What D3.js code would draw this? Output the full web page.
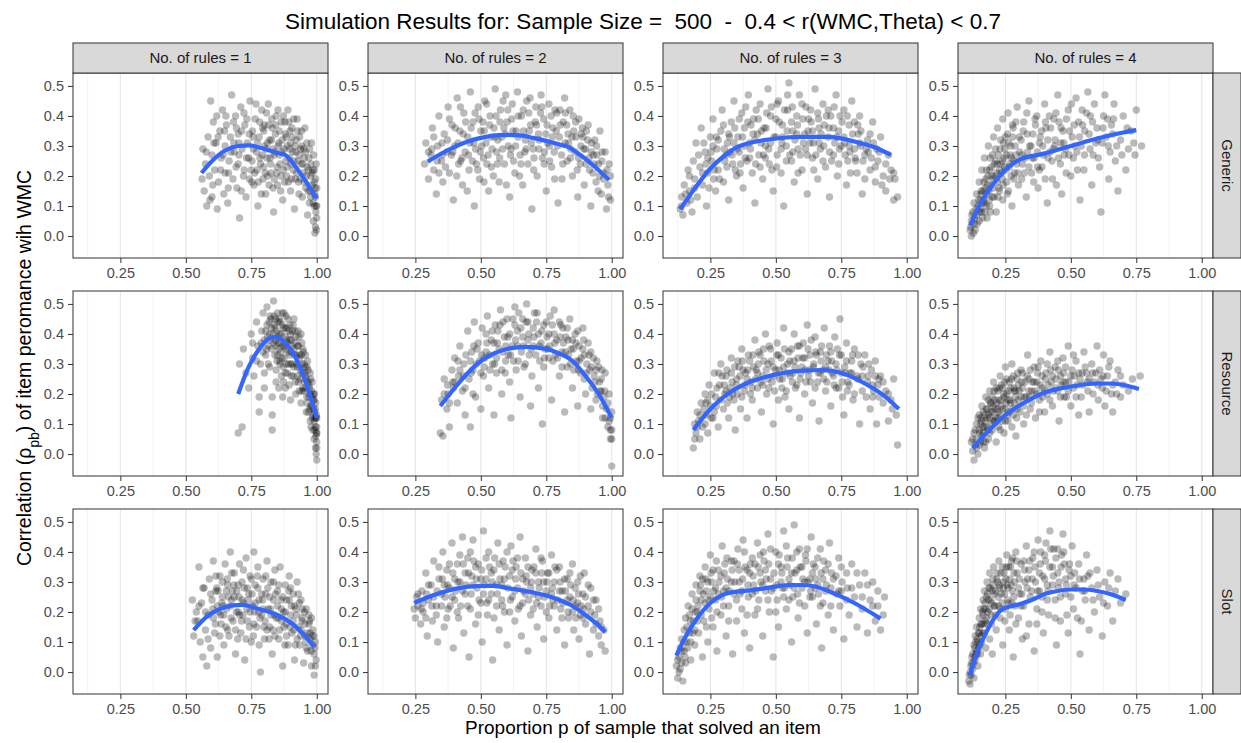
<!DOCTYPE html>
<meta charset="utf-8">
<script src="https://d3js.org/d3.v7.min.js"></script>
<style>
  body { margin: 0; background: #fff; }
  text { font-family: "Liberation Sans", Arial, sans-serif; }
</style>
<div id="chart"></div>
<script>

// facet labels and ticks
const ruleLabels = ["No. of rules = 1", "No. of rules = 2", "No. of rules = 3", "No. of rules = 4"]
const modelLabels = ["Generic", "Resource", "Slot"]
const xTicks = [0.25, 0.50, 0.75, 1.00]
const xMinor = [0.125, 0.375, 0.625, 0.875]
const yTicks = [0.0, 0.1, 0.2, 0.3, 0.4, 0.5]

// point clouds (p, r_pb), one array per panel
const genericR1 = [[.565,.29],[.57,.15],[.575,.24],[.58,.10],[.585,.33],[.59,.20],[.595,.45],[.60,.27],[.60,.13],[.605,.38],[.61,.22],[.615,.31],[.62,.09],[.625,.18],[.63,.35],[.635,.26],[.64,.42],[.645,.14],[.65,.30],[.65,.21],
[.655,.37],[.66,.11],[.665,.25],[.67,.33],[.675,.47],[.68,.19],[.685,.28],[.69,.40],[.695,.16],[.70,.34],[.70,.24],[.705,.06],[.71,.43],[.715,.29],[.72,.20],[.725,.37],[.73,.13],[.735,.31],[.74,.26],[.745,.45],[.75,.22],[.755,.35],[.76,.17],[.765,.39],[.77,.28],[.775,.10],[.78,.33],[.785,.24],[.79,.42],[.795,.19],[.80,.30],[.80,.37],
[.805,.14],[.81,.26],[.815,.44],[.82,.32],[.825,.21],[.83,.36],[.835,.08],[.84,.28],[.845,.40],[.85,.17],[.855,.31],[.86,.24],[.865,.38],[.87,.12],[.875,.29],[.88,.34],[.885,.20],[.89,.42],[.895,.26],[.90,.15],[.90,.31],[.905,.36],[.91,.22],[.915,.09],[.92,.28],[.925,.39],[.93,.18],[.935,.33],[.94,.24],[.945,.13],[.95,.29],[.955,.36],[.96,.20],[.965,.07],[.97,.26],[.975,.15],[.98,.31],[.985,.22],[.99,.10],[.99,.18],[.995,.03],[.995,.13],[1.0,.06],[.998,.24],[.993,.01],
[.562,.19],[.578,.28],[.592,.12],[.607,.31],[.618,.40],[.633,.22],[.648,.35],[.662,.16],[.672,.28],[.682,.38],[.692,.23],[.703,.31],[.712,.15],[.722,.41],[.732,.26],[.742,.34],[.752,.18],[.758,.29],[.768,.44],[.772,.22],[.782,.38],[.788,.14],[.792,.27],[.798,.35],[.803,.21],[.808,.41],[.812,.31],[.818,.17],[.822,.26],[.828,.39],[.832,.29],[.838,.19],[.842,.34],[.848,.23],[.852,.42],[.858,.27],[.862,.15],[.868,.32],[.872,.22],[.878,.38],[.882,.25],[.888,.30],[.892,.18],[.898,.35],[.902,.24],[.908,.28],[.912,.39],[.918,.19],[.922,.32],[.928,.25],[.932,.14],[.938,.29],[.942,.35],[.948,.21],[.952,.26],[.958,.16],[.962,.31],[.968,.22],[.972,.11],[.978,.24],[.982,.17],[.988,.27],[.992,.14],[.996,.19],[.997,.08],[1.0,.16],[1.0,.10],[.999,.02],[.987,.05],[.977,.20],
[.753,.25],[.757,.33],[.763,.21],[.773,.31],[.777,.18],[.783,.26],[.793,.36],[.797,.23],[.807,.29],[.813,.20],[.817,.37],[.823,.24],[.827,.32],[.833,.16],[.837,.27],[.843,.37],[.847,.21],[.853,.30],[.857,.35],[.863,.20],[.867,.28],[.873,.40],[.877,.18],[.883,.33],[.887,.23],[.893,.38],[.897,.29],[.903,.19],[.907,.33],[.913,.25],[.917,.30],[.923,.21],[.927,.35],[.933,.27],[.937,.19],[.943,.30],[.947,.24],[.953,.18],[.957,.28],[.963,.23],[.967,.15],[.973,.29],[.977,.13],[.983,.21],[.986,.11],[.991,.22],[.994,.16],[.997,.10],[.703,.27],[.713,.35],[.723,.22],[.733,.39],[.743,.19],[.683,.31],[.663,.21],[.643,.27],[.623,.33],[.603,.17],[.653,.40],[.693,.36]]

const genericR2 = [[.285,.24],[.29,.31],[.30,.19],[.31,.27],[.315,.36],[.32,.22],[.33,.14],[.335,.30],[.34,.40],[.35,.25],[.355,.18],[.36,.34],[.37,.28],[.375,.43],[.38,.21],[.39,.37],[.395,.12],[.40,.30],[.41,.46],[.415,.24],[.42,.35],[.43,.17],[.435,.41],[.44,.28],[.45,.33],[.455,.22],[.46,.48],[.47,.38],[.475,.10],[.48,.29],[.49,.43],[.495,.19],[.50,.35],[.51,.26],[.515,.45],[.52,.31],[.53,.15],[.535,.40],[.54,.23],[.55,.36],[.555,.49],[.56,.28],[.57,.18],[.575,.42],[.58,.33],[.59,.24],[.595,.47],[.60,.38],[.61,.13],[.615,.29],[.62,.44],[.63,.21],[.635,.35],[.64,.48],[.65,.27],[.655,.40],[.66,.17],[.67,.32],[.675,.45],[.68,.24],[.69,.37],[.695,.09],[.70,.29],[.71,.43],[.715,.20],[.72,.34],[.73,.47],[.735,.26],[.74,.39],[.75,.15],[.755,.31],[.76,.44],[.77,.23],[.775,.36],[.78,.28],[.79,.41],[.795,.11],[.80,.33],[.81,.19],[.815,.38],[.82,.46],[.83,.25],[.835,.31],[.84,.42],[.85,.20],[.855,.35],[.86,.28],[.87,.13],[.875,.39],[.88,.24],[.89,.33],[.895,.17],[.90,.29],[.91,.37],[.915,.22],[.92,.10],[.93,.27],[.935,.32],[.94,.18],[.95,.24],[.955,.35],[.96,.14],[.97,.21],[.975,.28],[.98,.09],[.985,.17],[.99,.24],[.995,.12],
[.30,.28],[.32,.33],[.34,.21],[.352,.31],[.365,.23],[.38,.39],[.388,.27],[.402,.36],[.408,.20],[.422,.43],[.428,.26],[.442,.38],[.448,.15],[.458,.31],[.468,.25],[.478,.41],[.488,.22],[.498,.28],[.508,.38],[.512,.18],[.522,.44],[.528,.27],[.538,.33],[.548,.20],[.558,.40],[.565,.32],[.572,.26],[.585,.45],[.588,.36],[.598,.17],[.605,.30],[.618,.39],[.625,.25],[.642,.33],[.648,.20],[.662,.42],[.668,.28],[.685,.35],[.688,.46],[.702,.22],[.708,.38],[.722,.29],[.728,.41],[.742,.24],[.748,.34],[.762,.30],[.768,.40],[.782,.19],[.788,.35],[.802,.42],[.808,.27],[.822,.31],[.828,.37],[.842,.26],[.848,.33],[.862,.38],[.868,.22],[.882,.30],[.888,.36],[.902,.24],[.908,.32],[.922,.28],[.928,.21],[.942,.30],[.948,.15],[.962,.25],[.968,.19],[.982,.22],[.988,.13],[.995,.20],
[.453,.27],[.463,.36],[.473,.31],[.483,.24],[.493,.39],[.503,.30],[.513,.35],[.523,.24],[.533,.37],[.543,.29],[.553,.33],[.563,.24],[.573,.38],[.583,.29],[.593,.34],[.603,.42],[.613,.27],[.623,.35],[.633,.30],[.643,.40],[.653,.24],[.663,.35],[.673,.29],[.683,.41],[.693,.31],[.703,.26],[.713,.37],[.723,.32],[.733,.43],[.743,.28],[.753,.37],[.763,.25],[.773,.33],[.783,.42],[.793,.30],[.803,.37],[.813,.24],[.823,.41],[.833,.34],[.843,.29],[.853,.40],[.863,.33],[.873,.26],[.883,.34],[.893,.29],[.903,.35],[.913,.26],[.923,.31],[.933,.24],[.943,.27],[.953,.20],[.963,.28],[.413,.31],[.423,.25],[.433,.34],[.393,.28],[.373,.32],[.353,.27],[.333,.25],[.313,.29]]

const genericR3 = [[.135,.09],[.14,.13],[.145,.07],[.15,.17],[.16,.11],[.165,.22],[.17,.15],[.18,.08],[.185,.25],[.19,.19],[.195,.31],[.20,.13],[.21,.23],[.215,.36],[.22,.17],[.23,.28],[.235,.10],[.24,.21],[.25,.33],[.255,.25],[.26,.39],[.27,.15],[.275,.29],[.28,.22],[.29,.35],[.295,.42],[.30,.18],[.31,.27],[.315,.31],[.32,.12],[.33,.38],[.335,.24],[.34,.45],[.35,.20],[.355,.33],[.36,.28],[.37,.41],[.375,.16],[.38,.36],[.39,.25],[.395,.47],[.40,.31],[.41,.21],[.415,.39],[.42,.11],[.43,.34],[.435,.27],[.44,.44],[.45,.19],[.455,.36],[.46,.30],[.47,.49],[.475,.24],[.48,.40],[.49,.15],[.50,.33],[.505,.27],[.51,.45],[.52,.21],[.525,.37],[.53,.10],[.54,.30],[.545,.42],[.55,.51],[.56,.25],[.565,.35],[.57,.18],[.58,.40],[.585,.29],[.59,.47],[.60,.22],[.61,.34],[.615,.43],[.62,.14],[.63,.31],[.635,.38],[.64,.26],[.65,.49],[.66,.19],[.665,.36],[.67,.29],[.68,.44],[.69,.23],[.70,.33],[.705,.13],[.71,.40],[.72,.27],[.73,.47],[.735,.20],[.74,.35],[.75,.30],[.76,.42],[.77,.17],[.775,.25],[.78,.37],[.79,.45],[.80,.29],[.81,.21],[.815,.34],[.82,.40],[.83,.14],[.84,.27],[.85,.32],[.86,.22],[.87,.38],[.88,.18],[.885,.29],[.89,.25],[.90,.33],[.91,.20],[.92,.15],[.93,.27],[.94,.22],[.95,.12],[.955,.19],[.965,.13],
[.14,.10],[.155,.14],[.17,.20],[.175,.12],[.19,.16],[.205,.27],[.22,.21],[.225,.31],[.24,.26],[.245,.16],[.26,.30],[.265,.22],[.28,.32],[.285,.19],[.30,.37],[.305,.25],[.32,.34],[.325,.28],[.34,.31],[.345,.22],[.36,.39],[.365,.24],[.38,.30],[.385,.43],[.40,.26],[.405,.37],[.42,.32],[.425,.42],[.44,.23],[.445,.35],[.46,.26],[.465,.41],[.48,.31],[.485,.22],[.50,.39],[.505,.44],[.52,.29],[.525,.33],[.54,.25],[.545,.47],[.56,.38],[.565,.28],[.58,.34],[.585,.21],[.60,.44],[.605,.31],[.62,.27],[.625,.39],[.64,.35],[.645,.22],[.66,.41],[.665,.31],[.68,.25],[.685,.37],[.70,.42],[.705,.28],[.72,.36],[.725,.31],[.74,.24],[.745,.40],[.76,.33],[.765,.27],[.78,.30],[.785,.21],[.80,.38],[.805,.25],[.82,.31],[.825,.35],[.84,.19],[.845,.29],[.86,.34],[.865,.26],[.88,.23],[.895,.28],[.905,.17],[.92,.24],[.935,.19],[.95,.21],
[.303,.29],[.313,.23],[.323,.33],[.333,.27],[.343,.36],[.353,.29],[.363,.21],[.373,.33],[.383,.26],[.393,.38],[.403,.29],[.413,.34],[.423,.24],[.433,.39],[.443,.31],[.453,.27],[.463,.36],[.473,.29],[.483,.43],[.493,.33],[.503,.23],[.513,.38],[.523,.31],[.533,.42],[.543,.35],[.553,.27],[.563,.43],[.573,.32],[.583,.37],[.593,.27],[.603,.39],[.613,.29],[.623,.35],[.633,.42],[.643,.31],[.653,.27],[.663,.39],[.673,.34],[.683,.30],[.693,.40],[.703,.36],[.713,.25],[.723,.43],[.733,.33],[.743,.29],[.753,.38],[.763,.31],[.773,.40],[.783,.28],[.793,.34],[.803,.26],[.813,.37],[.823,.30],[.833,.25],[.853,.28],[.873,.31],[.253,.28],[.263,.19],[.273,.33],[.233,.24]]

const genericR4 = [[.115,.02],[.12,.05],[.12,.00],[.125,.08],[.13,.04],[.13,.11],[.135,.02],[.14,.07],[.14,.14],[.145,.10],[.15,.05],[.15,.18],[.155,.12],[.16,.08],[.16,.22],[.165,.15],[.17,.11],[.17,.26],[.175,.19],[.18,.06],[.18,.14],[.185,.30],[.19,.22],[.19,.10],[.195,.17],[.20,.27],[.20,.13],[.205,.33],[.21,.20],[.215,.08],[.22,.24],[.22,.36],[.225,.16],[.23,.29],[.235,.21],[.24,.39],[.24,.12],[.245,.26],[.25,.33],[.255,.18],[.26,.41],[.265,.23],[.27,.30],[.275,.10],[.28,.36],[.285,.21],[.29,.27],[.295,.43],[.30,.17],[.31,.32],[.315,.24],[.32,.38],[.33,.13],[.335,.28],[.34,.45],[.35,.21],[.355,.34],[.36,.26],[.37,.40],[.375,.16],[.38,.31],[.39,.23],[.40,.44],[.405,.36],[.41,.11],[.42,.28],[.43,.19],[.435,.39],[.44,.32],[.45,.47],[.46,.24],[.465,.14],[.47,.35],[.48,.29],[.49,.42],[.50,.20],[.505,.33],[.51,.26],[.52,.46],[.53,.38],[.535,.12],[.54,.30],[.55,.22],[.56,.41],[.565,.48],[.57,.34],[.58,.17],[.585,.27],[.59,.44],[.60,.36],[.61,.23],[.615,.08],[.62,.31],[.63,.47],[.64,.39],[.645,.19],[.65,.28],[.66,.34],[.665,.44],[.67,.25],[.68,.15],[.69,.32],[.70,.40],[.71,.22],[.72,.29],[.73,.35],[.74,.31],[.75,.42],[.77,.30],
[.118,.03],[.122,.07],[.128,.01],[.132,.06],[.138,.09],[.142,.04],[.148,.12],[.152,.08],[.158,.15],[.162,.11],[.168,.18],[.172,.08],[.178,.22],[.182,.17],[.188,.12],[.192,.26],[.198,.20],[.202,.16],[.208,.24],[.212,.29],[.218,.18],[.222,.13],[.228,.22],[.232,.32],[.238,.25],[.242,.17],[.248,.29],[.252,.22],[.258,.34],[.262,.15],[.268,.27],[.272,.20],[.278,.33],[.282,.25],[.29,.38],[.298,.21],[.305,.28],[.312,.19],[.318,.35],[.325,.26],[.332,.41],[.34,.23],[.348,.30],[.358,.18],[.365,.37],[.372,.28],[.38,.22],[.388,.35],[.395,.27],[.402,.19],[.412,.32],[.418,.40],[.428,.25],[.438,.30],[.445,.17],[.455,.38],[.462,.31],[.475,.27],[.482,.21],[.495,.35],[.502,.44],[.515,.30],[.525,.22],[.545,.37],[.552,.27],[.575,.40],[.595,.31],[.605,.26],[.625,.40],[.635,.33],[.655,.37],[.675,.30],[.695,.27],[.715,.36],[.745,.27],
[.153,.09],[.157,.14],[.163,.06],[.167,.12],[.173,.16],[.177,.10],[.183,.20],[.187,.15],[.193,.08],[.197,.23],[.203,.19],[.207,.13],[.213,.25],[.217,.21],[.223,.27],[.227,.15],[.233,.24],[.237,.19],[.243,.31],[.247,.23],[.253,.27],[.257,.14],[.263,.31],[.267,.24],[.273,.26],[.277,.37],[.283,.19],[.287,.30],[.293,.24],[.303,.33],[.313,.27],[.323,.21],[.333,.34],[.343,.30],[.353,.26],[.363,.39],[.373,.23],[.383,.33],[.393,.30],[.403,.38],[.413,.26],[.423,.36],[.433,.29],[.443,.41],[.453,.26],[.463,.36],[.473,.31],[.483,.39],[.493,.27],[.513,.37],[.523,.28],[.533,.33],[.543,.42],[.553,.35],[.573,.29],[.583,.38],[.603,.32],[.623,.36],[.643,.30],[.663,.39]]

const resourceR1 = [[.70,.07],[.715,.09],[.705,.30],[.72,.35],[.73,.27],[.74,.22],[.75,.40],[.755,.32],[.76,.26],[.77,.44],[.775,.36],[.78,.19],[.78,.14],[.785,.30],[.79,.41],[.795,.47],[.80,.38],[.80,.27],[.805,.33],[.81,.43],[.81,.49],[.815,.36],[.82,.40],[.82,.29],[.825,.45],[.83,.08],[.83,.13],[.83,.19],[.835,.37],[.835,.51],[.84,.42],[.84,.33],[.845,.28],[.85,.47],[.85,.39],[.855,.35],[.855,.22],[.86,.44],[.86,.30],[.865,.40],[.87,.36],[.87,.19],[.875,.47],[.875,.32],[.88,.42],[.88,.27],[.885,.38],[.89,.45],[.89,.34],[.895,.23],[.90,.40],[.90,.30],[.905,.36],[.91,.43],[.91,.26],[.915,.33],[.92,.39],[.92,.20],[.925,.29],[.93,.36],[.93,.24],[.935,.32],[.94,.40],[.94,.17],[.945,.27],[.95,.34],[.95,.21],[.955,.29],[.96,.14],[.96,.25],[.965,.31],[.97,.19],[.97,.23],[.975,.11],[.975,.27],[.98,.16],[.98,.21],[.985,.08],[.985,.13],[.99,.18],[.99,.05],[.99,.11],[.995,.02],[.995,.09],[.995,.15],[1.0,.04],[1.0,.07],[1.0,-.02],[1.0,.12],[.998,.00],
[.795,.34],[.805,.41],[.815,.30],[.822,.46],[.828,.35],[.838,.43],[.842,.38],[.848,.31],[.852,.44],[.858,.40],[.862,.34],[.868,.43],[.872,.29],[.878,.39],[.882,.35],[.887,.42],[.892,.30],[.897,.38],[.902,.34],[.907,.41],[.912,.29],[.917,.37],[.922,.33],[.927,.26],[.932,.39],[.937,.28],[.942,.33],[.947,.22],[.952,.30],[.957,.26],[.962,.19],[.967,.28],[.972,.22],[.977,.16],[.982,.24],[.987,.18],[.992,.14],[.997,.06],[.997,.12],[1.0,.09],[1.0,.02],[.993,.08],[.988,.20],[.978,.09],[.968,.14],[.957,.33],[.943,.37],[.928,.41],[.913,.45],[.898,.43],[.883,.46],[.868,.47],[.85,.33],[.865,.26],[.88,.22],[.90,.18],[.845,.24],[.80,.22],[.77,.31],[.755,.37],
[.823,.38],[.827,.42],[.833,.40],[.837,.46],[.843,.36],[.847,.41],[.853,.37],[.857,.45],[.863,.37],[.867,.32],[.873,.42],[.877,.36],[.883,.30],[.887,.37],[.893,.41],[.897,.33],[.903,.38],[.907,.30],[.913,.35],[.917,.41],[.923,.30],[.927,.36],[.933,.33],[.937,.25],[.943,.30],[.947,.35],[.953,.27],[.957,.22],[.963,.29],[.967,.24],[.973,.20],[.977,.25],[.983,.19],[.987,.15],[.991,.20],[.994,.12],[.996,.17],[.999,.07],[.999,.13],[.983,.12],[.973,.15],[.963,.17],[.953,.24],[.943,.21],[.933,.21],[.918,.24],[.903,.26],[.888,.27],[.873,.24],[.858,.31],[.843,.45],[.812,.39],[.818,.44],[.788,.37],[.808,.35]]

const resourceR2 = [[.345,.07],[.355,.06],[.35,.18],[.36,.25],[.37,.15],[.375,.20],[.38,.09],[.39,.28],[.395,.22],[.40,.32],[.41,.17],[.415,.26],[.42,.36],[.43,.21],[.435,.30],[.44,.13],[.45,.41],[.455,.25],[.46,.09],[.465,.34],[.47,.28],[.475,.44],[.48,.19],[.49,.37],[.495,.31],[.50,.15],[.505,.42],[.51,.26],[.52,.34],[.525,.46],[.53,.22],[.54,.38],[.545,.30],[.55,.13],[.555,.43],[.56,.27],[.57,.35],[.575,.48],[.58,.20],[.59,.39],[.595,.31],[.60,.45],[.61,.24],[.615,.12],[.62,.36],[.63,.49],[.635,.28],[.64,.41],[.65,.19],[.655,.34],[.66,.45],[.67,.30],[.675,.50],[.68,.38],[.69,.16],[.695,.26],[.70,.42],[.71,.33],[.715,.47],[.72,.22],[.73,.37],[.735,.10],[.74,.29],[.75,.44],[.755,.35],[.76,.40],[.77,.18],[.775,.31],[.78,.48],[.79,.38],[.80,.26],[.805,.43],[.81,.34],[.82,.14],[.825,.39],[.83,.29],[.84,.45],[.845,.35],[.85,.22],[.86,.40],[.865,.31],[.87,.16],[.875,.36],[.88,.27],[.89,.42],[.895,.33],[.90,.20],[.91,.37],[.915,.28],[.92,.15],[.93,.32],[.935,.24],[.94,.18],[.95,.29],[.955,.21],[.96,.25],[.965,.12],[.97,.19],[.975,.27],[.98,.15],[.985,.09],[.99,.20],[.995,.05],[.995,.12],[1.0,.08],[1.0,-.04],
[.36,.20],[.38,.17],[.40,.24],[.42,.28],[.44,.22],[.46,.31],[.47,.20],[.485,.35],[.50,.27],[.515,.32],[.52,.40],[.535,.28],[.55,.37],[.56,.32],[.565,.41],[.58,.28],[.585,.44],[.595,.36],[.605,.33],[.61,.40],[.625,.31],[.63,.43],[.64,.36],[.645,.47],[.66,.39],[.665,.29],[.68,.44],[.685,.33],[.70,.36],[.705,.47],[.72,.40],[.725,.31],[.74,.43],[.745,.35],[.76,.32],[.765,.46],[.78,.40],[.785,.33],[.80,.44],[.81,.29],[.815,.37],[.83,.42],[.835,.33],[.85,.38],[.855,.28],[.87,.41],[.875,.31],[.89,.35],[.895,.25],[.905,.30],[.92,.34],[.925,.22],[.94,.28],[.945,.20],[.96,.21],[.965,.16],[.975,.12],[.985,.17],[.99,.11],[.995,.08],[1.0,.05],[1.0,.14],
[.503,.33],[.513,.29],[.523,.37],[.533,.33],[.543,.41],[.553,.30],[.563,.37],[.573,.43],[.583,.34],[.593,.27],[.603,.39],[.613,.33],[.623,.45],[.633,.38],[.643,.31],[.653,.42],[.663,.36],[.673,.44],[.683,.40],[.693,.35],[.703,.39],[.713,.44],[.723,.36],[.733,.41],[.743,.32],[.753,.39],[.763,.36],[.773,.43],[.783,.37],[.793,.32],[.803,.39],[.813,.42],[.823,.34],[.833,.38],[.843,.30],[.853,.35],[.863,.37],[.873,.28],[.883,.32],[.893,.38],[.903,.27],[.913,.33],[.923,.29],[.933,.26],[.943,.31],[.953,.24],[.963,.28],[.973,.21],[.483,.30],[.473,.36],[.463,.27],[.443,.33],[.433,.26],[.413,.31],[.393,.24],[.373,.23]]

const resourceR3 = [[.185,.02],[.19,.10],[.195,.07],[.20,.14],[.205,.11],[.21,.05],[.215,.17],[.22,.09],[.23,.20],[.235,.13],[.24,.07],[.245,.23],[.25,.16],[.26,.12],[.265,.27],[.27,.19],[.28,.09],[.285,.23],[.29,.30],[.30,.15],[.305,.20],[.31,.26],[.32,.12],[.325,.22],[.33,.32],[.34,.18],[.345,.08],[.35,.25],[.36,.29],[.365,.15],[.37,.35],[.38,.21],[.385,.27],[.39,.12],[.40,.31],[.405,.24],[.41,.18],[.42,.38],[.425,.28],[.43,.22],[.44,.33],[.445,.14],[.45,.26],[.46,.40],[.465,.20],[.47,.30],[.48,.35],[.485,.24],[.49,.10],[.50,.28],[.505,.37],[.51,.18],[.52,.32],[.525,.25],[.53,.42],[.54,.21],[.545,.30],[.55,.15],[.56,.35],[.565,.27],[.57,.40],[.58,.23],[.585,.32],[.59,.12],[.60,.29],[.605,.37],[.61,.20],[.62,.43],[.625,.26],[.63,.33],[.64,.17],[.645,.30],[.65,.39],[.66,.24],[.665,.11],[.67,.34],[.68,.28],[.685,.42],[.69,.21],[.70,.31],[.705,.36],[.71,.16],[.72,.26],[.725,.39],[.73,.30],[.74,.22],[.745,.45],[.75,.33],[.76,.13],[.765,.27],[.77,.37],[.78,.23],[.79,.31],[.795,.18],[.80,.35],[.81,.26],[.82,.10],[.825,.30],[.83,.21],[.84,.33],[.85,.24],[.86,.15],[.865,.28],[.87,.19],[.88,.31],[.885,.10],[.89,.23],[.90,.26],[.91,.17],[.92,.21],[.93,.11],[.94,.18],[.95,.25],[.96,.13],[.965,.03],
[.19,.05],[.20,.09],[.21,.13],[.225,.15],[.23,.10],[.24,.18],[.255,.20],[.265,.14],[.275,.22],[.29,.18],[.295,.26],[.31,.21],[.315,.17],[.33,.27],[.335,.20],[.35,.23],[.355,.31],[.37,.19],[.375,.28],[.39,.25],[.395,.33],[.41,.22],[.415,.29],[.43,.27],[.435,.34],[.45,.23],[.455,.31],[.47,.25],[.475,.36],[.49,.29],[.495,.21],[.51,.33],[.515,.25],[.53,.29],[.535,.19],[.55,.34],[.555,.26],[.57,.31],[.575,.22],[.59,.36],[.595,.27],[.61,.32],[.615,.24],[.63,.28],[.635,.38],[.65,.22],[.655,.33],[.67,.27],[.675,.36],[.69,.29],[.695,.24],[.71,.34],[.715,.27],[.73,.22],[.735,.35],[.75,.27],[.755,.19],[.77,.31],[.775,.24],[.79,.27],[.80,.20],[.815,.33],[.83,.26],[.845,.19],[.855,.30],[.87,.23],[.88,.26],[.895,.19],[.91,.24],[.93,.20],[.945,.15],
[.303,.23],[.313,.28],[.323,.19],[.333,.24],[.343,.29],[.353,.20],[.363,.26],[.373,.31],[.383,.23],[.393,.28],[.403,.20],[.413,.33],[.423,.25],[.433,.30],[.443,.24],[.453,.35],[.463,.28],[.473,.22],[.483,.31],[.493,.26],[.503,.33],[.513,.28],[.523,.22],[.533,.35],[.543,.27],[.553,.31],[.563,.24],[.573,.29],[.583,.36],[.593,.25],[.603,.32],[.613,.28],[.623,.35],[.633,.24],[.643,.29],[.653,.34],[.663,.27],[.673,.31],[.683,.25],[.693,.33],[.703,.28],[.713,.31],[.723,.23],[.733,.28],[.743,.33],[.753,.24],[.763,.29],[.773,.21],[.783,.27],[.793,.33],[.813,.25],[.833,.29],[.853,.26],[.873,.21],[.893,.25],[.273,.16],[.253,.12],[.233,.17],[.283,.27]]

const resourceR4 = [[.12,.04],[.125,.01],[.13,-.02],[.13,.07],[.135,.03],[.14,.10],[.14,.05],[.145,.00],[.15,.08],[.15,.13],[.155,.04],[.16,.11],[.16,.16],[.165,.07],[.17,.02],[.17,.13],[.175,.19],[.18,.09],[.18,.15],[.185,.05],[.19,.12],[.19,.21],[.195,.17],[.20,.08],[.20,.14],[.205,.24],[.21,.11],[.21,.18],[.215,.04],[.22,.15],[.22,.21],[.225,.09],[.23,.26],[.23,.13],[.235,.18],[.24,.22],[.245,.07],[.25,.15],[.25,.29],[.255,.20],[.26,.11],[.265,.24],[.27,.17],[.275,.30],[.28,.13],[.285,.21],[.29,.06],[.295,.25],[.30,.18],[.305,.14],[.31,.28],[.315,.22],[.32,.10],[.33,.19],[.335,.33],[.34,.25],[.345,.15],[.35,.21],[.36,.29],[.365,.12],[.37,.24],[.38,.18],[.385,.31],[.39,.22],[.40,.14],[.405,.27],[.41,.20],[.42,.34],[.425,.24],[.43,.16],[.44,.29],[.45,.21],[.455,.11],[.46,.26],[.47,.32],[.475,.19],[.48,.24],[.49,.36],[.50,.16],[.505,.28],[.51,.22],[.52,.31],[.53,.13],[.535,.25],[.54,.19],[.55,.34],[.56,.27],[.565,.21],[.57,.14],[.58,.30],[.59,.24],[.60,.36],[.605,.18],[.61,.28],[.62,.22],[.625,.33],[.63,.16],[.64,.26],[.65,.31],[.655,.20],[.66,.14],[.67,.24],[.68,.28],[.69,.19],[.70,.23],[.72,.21],[.735,.25],[.765,.26],
[.125,.05],[.135,.08],[.14,.02],[.145,.12],[.15,.03],[.155,.10],[.16,.06],[.165,.14],[.17,.09],[.175,.04],[.18,.12],[.185,.18],[.19,.07],[.195,.14],[.20,.19],[.205,.11],[.21,.15],[.215,.22],[.22,.12],[.225,.18],[.23,.08],[.235,.23],[.24,.15],[.245,.19],[.25,.11],[.255,.25],[.26,.18],[.265,.14],[.27,.22],[.275,.09],[.28,.26],[.285,.17],[.29,.21],[.295,.15],[.30,.23],[.31,.19],[.315,.27],[.32,.16],[.325,.24],[.33,.13],[.34,.21],[.345,.28],[.35,.17],[.36,.24],[.37,.20],[.375,.29],[.38,.14],[.39,.26],[.40,.21],[.41,.30],[.42,.18],[.43,.26],[.44,.22],[.45,.31],[.46,.19],[.47,.24],[.48,.29],[.49,.21],[.50,.26],[.51,.33],[.52,.19],[.53,.27],[.545,.23],[.555,.29],[.57,.25],[.585,.20],[.595,.27],[.615,.25],[.635,.21],[.645,.29],[.66,.23],[.675,.20],[.69,.26],
[.153,.07],[.157,.12],[.163,.09],[.167,.04],[.173,.11],[.177,.15],[.183,.08],[.187,.13],[.193,.17],[.197,.10],[.203,.16],[.207,.21],[.213,.12],[.217,.17],[.223,.14],[.227,.22],[.233,.16],[.237,.11],[.243,.20],[.247,.24],[.253,.17],[.257,.13],[.263,.21],[.267,.18],[.273,.25],[.277,.15],[.283,.22],[.287,.19],[.293,.12],[.297,.27],[.303,.21],[.313,.24],[.323,.19],[.333,.26],[.343,.19],[.353,.24],[.363,.21],[.373,.27],[.383,.23],[.393,.19],[.403,.25],[.413,.23],[.423,.28],[.433,.21],[.443,.25],[.453,.28],[.463,.23],[.473,.27],[.483,.19],[.493,.24],[.513,.26],[.523,.23],[.543,.27],[.563,.24],[.583,.27],[.603,.23],[.623,.26]]

const slotR1 = [[.525,.24],[.53,.12],[.54,.20],[.545,.17],[.55,.35],[.555,.10],[.56,.23],[.565,.05],[.57,.28],[.575,.14],[.58,.02],[.585,.19],[.59,.31],[.595,.08],[.60,.24],[.605,.37],[.61,.13],[.615,.27],[.62,.05],[.625,.20],[.63,.32],[.635,.16],[.64,.25],[.645,.09],[.65,.36],[.655,.21],[.66,.29],[.665,.12],[.67,.40],[.675,.24],[.68,.17],[.685,.33],[.69,.06],[.695,.27],[.70,.20],[.705,.36],[.71,.13],[.715,.30],[.72,.23],[.725,.04],[.73,.38],[.735,.17],[.74,.26],[.745,.32],[.75,.10],[.755,.22],[.76,.40],[.765,.29],[.77,.15],[.775,.35],[.78,.24],[.785,.00],[.79,.19],[.795,.31],[.80,.11],[.805,.26],[.81,.37],[.815,.21],[.82,.15],[.825,.30],[.83,.06],[.835,.24],[.84,.34],[.845,.18],[.85,.27],[.855,.11],[.86,.35],[.865,.21],[.87,.02],[.875,.15],[.88,.29],[.885,.24],[.89,.09],[.895,.32],[.90,.19],[.905,.13],[.91,.26],[.915,.04],[.92,.21],[.925,.30],[.93,.15],[.935,.09],[.94,.24],[.945,.18],[.95,.03],[.955,.12],[.96,.21],[.965,.07],[.97,.16],[.975,.11],[.98,.02],[.985,.14],[.99,.06],[.99,-.01],[.995,.10],[.998,.04],
[.535,.17],[.55,.22],[.565,.28],[.575,.20],[.585,.11],[.595,.26],[.605,.18],[.615,.32],[.62,.22],[.63,.12],[.64,.30],[.645,.19],[.655,.27],[.66,.14],[.67,.22],[.675,.33],[.685,.25],[.69,.14],[.70,.29],[.705,.19],[.715,.24],[.72,.34],[.73,.11],[.735,.28],[.745,.20],[.75,.31],[.76,.16],[.765,.23],[.775,.28],[.78,.09],[.79,.26],[.795,.21],[.805,.32],[.81,.14],[.82,.25],[.825,.19],[.835,.30],[.84,.12],[.85,.22],[.855,.29],[.865,.17],[.87,.25],[.88,.20],[.885,.12],[.895,.24],[.90,.28],[.91,.17],[.915,.22],[.925,.11],[.93,.26],[.94,.14],[.945,.21],[.955,.16],[.96,.08],[.97,.19],[.975,.13],[.985,.09],[.99,.12],[.995,.02],[.98,.18],
[.603,.21],[.613,.16],[.623,.27],[.633,.19],[.643,.22],[.653,.15],[.663,.25],[.673,.18],[.683,.29],[.693,.20],[.703,.25],[.713,.17],[.723,.28],[.733,.21],[.743,.15],[.753,.26],[.763,.20],[.773,.32],[.783,.18],[.793,.24],[.803,.17],[.813,.28],[.823,.21],[.833,.14],[.843,.26],[.853,.18],[.863,.24],[.873,.20],[.883,.16],[.893,.27],[.903,.22],[.913,.14],[.923,.19],[.933,.23],[.943,.17],[.953,.20],[.963,.13],[.973,.17],[.983,.12],[.993,.08],[.978,.07],[.958,.10],[.938,.12],[.918,.09],[.898,.15],[.878,.09],[.858,.14],[.838,.19],[.818,.11],[.798,.15],[.778,.20],[.758,.12],[.738,.24],[.718,.19],[.698,.11],[.678,.27],[.658,.31],[.638,.23],[.618,.28]]

const slotR2 = [[.245,.21],[.25,.18],[.255,.25],[.26,.22],[.27,.16],[.275,.27],[.28,.20],[.29,.33],[.295,.12],[.30,.24],[.31,.29],[.315,.17],[.32,.37],[.33,.22],[.335,.10],[.34,.31],[.35,.26],[.355,.40],[.36,.15],[.37,.34],[.375,.21],[.38,.28],[.39,.43],[.395,.08],[.40,.24],[.41,.36],[.415,.18],[.42,.30],[.43,.45],[.435,.13],[.44,.26],[.45,.38],[.455,.05],[.46,.21],[.465,.32],[.47,.44],[.48,.16],[.485,.28],[.49,.36],[.50,.23],[.505,.10],[.51,.47],[.52,.31],[.525,.19],[.53,.40],[.54,.26],[.545,.04],[.55,.34],[.56,.22],[.565,.43],[.57,.14],[.58,.29],[.585,.37],[.59,.20],[.60,.09],[.61,.32],[.615,.42],[.62,.25],[.63,.17],[.635,.35],[.64,.28],[.65,.45],[.655,.12],[.66,.23],[.67,.38],[.675,.30],[.68,.07],[.69,.19],[.695,.34],[.70,.26],[.71,.41],[.715,.15],[.72,.30],[.73,.22],[.735,.37],[.74,.11],[.75,.27],[.755,.33],[.76,.18],[.77,.39],[.775,.24],[.78,.30],[.79,.14],[.80,.35],[.805,.21],[.81,.27],[.82,.09],[.83,.31],[.835,.18],[.84,.25],[.85,.36],[.855,.14],[.86,.22],[.87,.30],[.875,.11],[.88,.19],[.89,.26],[.895,.33],[.90,.16],[.91,.22],[.915,.06],[.92,.28],[.93,.14],[.935,.19],[.94,.24],[.95,.12],[.955,.17],[.96,.09],[.97,.14],[.975,.07],
[.26,.26],[.28,.23],[.29,.18],[.30,.29],[.32,.25],[.33,.19],[.34,.35],[.35,.22],[.36,.29],[.37,.18],[.38,.36],[.39,.25],[.40,.31],[.41,.20],[.42,.39],[.43,.27],[.44,.33],[.45,.22],[.46,.40],[.47,.29],[.48,.35],[.49,.19],[.50,.31],[.51,.26],[.52,.38],[.53,.24],[.54,.33],[.55,.18],[.56,.29],[.57,.36],[.58,.24],[.59,.31],[.60,.40],[.61,.20],[.62,.34],[.63,.27],[.64,.38],[.65,.22],[.66,.31],[.67,.26],[.68,.35],[.69,.28],[.70,.21],[.71,.33],[.72,.25],[.73,.38],[.74,.30],[.75,.20],[.76,.33],[.77,.26],[.78,.22],[.79,.34],[.80,.27],[.81,.18],[.82,.31],[.83,.24],[.84,.33],[.85,.20],[.86,.28],[.87,.23],[.88,.32],[.89,.18],[.90,.25],[.91,.29],[.92,.20],[.93,.24],[.94,.16],[.95,.21],[.96,.15],
[.353,.31],[.363,.25],[.373,.29],[.383,.22],[.393,.33],[.403,.27],[.413,.30],[.423,.22],[.433,.36],[.443,.29],[.453,.33],[.463,.26],[.473,.37],[.483,.31],[.493,.24],[.503,.34],[.513,.29],[.523,.23],[.533,.35],[.543,.30],[.553,.38],[.563,.26],[.573,.31],[.583,.22],[.593,.35],[.603,.28],[.613,.24],[.623,.37],[.633,.31],[.643,.21],[.653,.33],[.663,.27],[.673,.32],[.683,.24],[.693,.30],[.703,.35],[.713,.23],[.723,.28],[.733,.33],[.743,.25],[.753,.30],[.763,.22],[.773,.28],[.783,.35],[.793,.24],[.803,.30],[.813,.23],[.823,.27],[.833,.20],[.843,.29],[.853,.24],[.863,.18],[.873,.26],[.883,.22],[.893,.21],[.333,.27],[.313,.22],[.293,.26],[.273,.21]]

const slotR3 = [[.12,.02],[.125,-.02],[.13,.05],[.13,.00],[.135,.08],[.14,.03],[.14,.11],[.145,-.03],[.15,.14],[.15,.07],[.155,.18],[.16,.10],[.165,.22],[.17,.13],[.175,.04],[.18,.26],[.185,.17],[.19,.09],[.195,.29],[.20,.20],[.205,.13],[.21,.32],[.215,.24],[.22,.05],[.225,.17],[.23,.35],[.235,.27],[.24,.10],[.245,.21],[.25,.39],[.255,.30],[.26,.15],[.27,.24],[.275,.07],[.28,.34],[.29,.19],[.295,.42],[.30,.27],[.31,.12],[.315,.31],[.32,.22],[.33,.37],[.335,.06],[.34,.26],[.35,.17],[.355,.41],[.36,.30],[.37,.21],[.375,.44],[.38,.13],[.39,.34],[.395,.25],[.40,.08],[.41,.38],[.415,.29],[.42,.19],[.43,.43],[.435,.24],[.44,.33],[.45,.12],[.455,.37],[.46,.27],[.47,.46],[.475,.20],[.48,.31],[.49,.05],[.50,.40],[.505,.24],[.51,.15],[.52,.35],[.525,.28],[.53,.47],[.54,.21],[.545,.38],[.55,.31],[.56,.10],[.565,.25],[.57,.49],[.58,.34],[.585,.18],[.59,.41],[.60,.28],[.61,.22],[.615,.37],[.62,.13],[.63,.31],[.635,.45],[.64,.25],[.65,.35],[.655,.16],[.66,.29],[.67,.41],[.675,.08],[.68,.23],[.69,.34],[.70,.19],[.705,.43],[.71,.28],[.72,.14],[.73,.32],[.74,.38],[.745,.22],[.75,.27],[.76,.11],[.77,.33],[.78,.19],[.79,.36],[.80,.25],[.81,.15],[.82,.29],[.83,.21],[.84,.33],[.85,.13],[.86,.24],[.87,.30],[.88,.17],[.89,.22],[.90,.14],[.91,.19],[.915,.25],
[.125,.04],[.135,.01],[.14,.07],[.15,.10],[.155,.03],[.16,.15],[.17,.19],[.175,.10],[.18,.21],[.19,.14],[.195,.24],[.20,.17],[.21,.27],[.215,.19],[.22,.31],[.23,.23],[.235,.15],[.24,.30],[.25,.25],[.255,.18],[.26,.34],[.27,.28],[.275,.20],[.28,.26],[.29,.32],[.30,.22],[.305,.36],[.31,.28],[.32,.17],[.33,.30],[.34,.37],[.35,.24],[.36,.34],[.37,.27],[.38,.40],[.39,.19],[.40,.33],[.41,.26],[.42,.36],[.43,.21],[.44,.39],[.45,.29],[.46,.34],[.47,.24],[.48,.41],[.49,.28],[.50,.20],[.51,.36],[.52,.30],[.53,.25],[.54,.42],[.55,.24],[.56,.33],[.57,.28],[.58,.40],[.59,.23],[.60,.35],[.61,.30],[.62,.41],[.63,.25],[.64,.33],[.65,.28],[.66,.38],[.67,.22],[.68,.31],[.69,.27],[.70,.36],[.71,.22],[.72,.31],[.74,.27],[.75,.35],[.77,.24],[.79,.28],[.81,.33],[.83,.25],[.85,.29],[.87,.22],[.89,.27],
[.203,.22],[.213,.29],[.223,.26],[.233,.31],[.243,.24],[.253,.33],[.263,.27],[.273,.37],[.283,.30],[.293,.25],[.303,.33],[.313,.38],[.323,.27],[.333,.34],[.343,.30],[.353,.36],[.363,.26],[.373,.31],[.383,.35],[.393,.29],[.403,.36],[.413,.32],[.423,.27],[.433,.35],[.443,.30],[.453,.40],[.463,.31],[.473,.36],[.483,.27],[.493,.33],[.503,.29],[.513,.39],[.523,.33],[.533,.28],[.543,.35],[.553,.29],[.563,.38],[.573,.33],[.583,.26],[.593,.35],[.603,.31],[.613,.39],[.623,.30],[.633,.27],[.643,.36],[.653,.31],[.663,.26],[.673,.33],[.683,.37],[.693,.29],[.713,.33],[.733,.26],[.753,.30],[.773,.28],[.173,.17],[.183,.13],[.163,.08],[.153,.05],[.193,.20]]

const slotR4 = [[.11,-.03],[.115,.00],[.115,-.04],[.12,.03],[.12,-.01],[.125,.06],[.125,.01],[.13,.09],[.13,-.02],[.135,.04],[.135,.12],[.14,.07],[.14,.15],[.145,.02],[.145,.10],[.15,.18],[.15,.13],[.155,.06],[.155,.21],[.16,.16],[.16,.10],[.165,.24],[.165,.19],[.17,.13],[.17,.27],[.175,.08],[.175,.21],[.18,.30],[.18,.16],[.185,.24],[.19,.11],[.19,.33],[.195,.19],[.20,.27],[.20,.06],[.205,.35],[.21,.22],[.215,.14],[.22,.30],[.225,.37],[.23,.18],[.235,.26],[.24,.09],[.245,.33],[.25,.21],[.255,.39],[.26,.28],[.265,.14],[.27,.35],[.275,.23],[.28,.05],[.285,.30],[.29,.40],[.30,.18],[.305,.26],[.31,.36],[.315,.11],[.32,.22],[.33,.42],[.335,.31],[.34,.16],[.35,.27],[.355,.38],[.36,.07],[.37,.21],[.375,.44],[.38,.33],[.39,.25],[.395,.13],[.40,.39],[.41,.29],[.415,.19],[.42,.47],[.43,.35],[.44,.24],[.445,.09],[.45,.41],[.455,.30],[.46,.17],[.47,.46],[.475,.36],[.48,.26],[.49,.13],[.50,.32],[.505,.42],[.51,.21],[.52,.28],[.53,.36],[.535,.06],[.54,.17],[.55,.31],[.555,.24],[.56,.39],[.57,.14],[.58,.28],[.59,.20],[.60,.34],[.61,.25],[.62,.12],[.63,.30],[.64,.22],[.65,.33],[.66,.17],[.67,.27],[.69,.23],[.71,.26],
[.112,-.01],[.118,.02],[.122,.05],[.128,.03],[.132,.08],[.138,.06],[.142,.11],[.148,.08],[.152,.15],[.158,.12],[.162,.20],[.168,.16],[.172,.23],[.178,.18],[.182,.26],[.188,.21],[.192,.28],[.198,.23],[.202,.31],[.208,.26],[.212,.19],[.218,.33],[.222,.25],[.228,.29],[.232,.21],[.238,.35],[.242,.28],[.248,.17],[.252,.31],[.258,.24],[.262,.35],[.268,.19],[.272,.29],[.278,.38],[.282,.25],[.29,.16],[.295,.33],[.30,.28],[.31,.22],[.32,.37],[.325,.30],[.33,.12],[.34,.34],[.345,.25],[.36,.40],[.365,.30],[.37,.16],[.38,.27],[.385,.40],[.39,.20],[.40,.31],[.405,.43],[.41,.24],[.42,.35],[.43,.29],[.435,.41],[.44,.18],[.45,.33],[.46,.25],[.465,.39],[.48,.31],[.485,.19],[.495,.36],[.50,.25],[.515,.33],[.525,.18],[.545,.27],[.565,.32],[.585,.24],[.605,.29],[.625,.23],[.645,.28],[.68,.31],
[.133,.05],[.137,.10],[.143,.06],[.147,.13],[.153,.09],[.157,.16],[.163,.13],[.167,.21],[.173,.17],[.177,.25],[.183,.20],[.187,.28],[.193,.24],[.197,.16],[.203,.29],[.207,.22],[.213,.27],[.217,.31],[.223,.22],[.227,.28],[.233,.33],[.237,.23],[.243,.30],[.247,.26],[.253,.35],[.257,.29],[.263,.23],[.267,.31],[.273,.37],[.277,.27],[.283,.33],[.287,.22],[.293,.37],[.303,.31],[.313,.26],[.323,.34],[.333,.28],[.343,.37],[.353,.31],[.363,.35],[.373,.27],[.383,.36],[.393,.32],[.403,.37],[.413,.27],[.423,.41],[.433,.32],[.443,.38],[.453,.28],[.463,.35],[.473,.40],[.483,.29],[.493,.34],[.513,.29],[.533,.31],[.553,.27],[.573,.33]]

// smoothed fits (blue lines), one per panel
const genericFit1 = [[.56,.21],[.60,.25],[.65,.285],[.70,.30],[.74,.302],[.78,.295],[.82,.285],[.86,.275],[.88,.27],[.92,.23],[.96,.18],[1.0,.125]]
const genericFit2 = [[.297,.248],[.35,.275],[.40,.297],[.45,.315],[.50,.327],[.55,.335],[.59,.337],[.65,.335],[.70,.327],[.75,.317],[.80,.305],[.83,.298],[.88,.27],[.93,.235],[.99,.187]]
const genericFit3 = [[.135,.09],[.20,.17],[.25,.225],[.30,.265],[.35,.295],[.40,.31],[.50,.325],[.60,.33],[.70,.33],[.80,.315],[.88,.295],[.94,.27]]
const genericFit4 = [[.115,.035],[.15,.10],[.20,.17],[.25,.22],[.30,.253],[.40,.275],[.50,.30],[.60,.325],[.70,.345],[.75,.353]]
const resourceFit1 = [[.70,.20],[.74,.29],[.78,.35],[.82,.385],[.845,.39],[.88,.37],[.92,.32],[.95,.26],[.98,.18],[1.0,.12]]
const resourceFit2 = [[.345,.16],[.40,.22],[.45,.27],[.50,.31],[.55,.335],[.60,.35],[.67,.357],[.75,.35],[.80,.335],[.85,.31],[.90,.26],[.95,.20],[1.0,.12]]
const resourceFit3 = [[.185,.08],[.25,.15],[.30,.19],[.40,.24],[.50,.265],[.60,.278],[.68,.28],[.75,.27],[.85,.23],[.92,.19],[.97,.15]]
const resourceFit4 = [[.125,.02],[.20,.09],[.25,.13],[.30,.16],[.35,.185],[.40,.205],[.50,.225],[.60,.235],[.65,.235],[.70,.23],[.76,.217]]
const slotFit1 = [[.53,.14],[.58,.185],[.63,.21],[.68,.222],[.72,.224],[.76,.215],[.80,.205],[.85,.19],[.90,.165],[.95,.125],[.99,.085]]
const slotFit2 = [[.245,.23],[.30,.25],[.35,.265],[.40,.277],[.50,.287],[.55,.287],[.60,.28],[.70,.265],[.75,.255],[.80,.24],[.85,.22],[.90,.19],[.95,.155],[.975,.133]]
const slotFit3 = [[.12,.055],[.15,.11],[.20,.18],[.25,.23],[.30,.258],[.35,.268],[.40,.272],[.45,.278],[.50,.285],[.55,.29],[.60,.29],[.65,.285],[.70,.27],[.80,.23],[.90,.178]]
const slotFit4 = [[.115,-.01],[.14,.06],[.17,.12],[.20,.17],[.24,.21],[.30,.225],[.35,.24],[.40,.26],[.45,.27],[.50,.275],[.55,.275],[.60,.27],[.65,.26],[.71,.24]]

const points = [
  [genericR1, genericR2, genericR3, genericR4],
  [resourceR1, resourceR2, resourceR3, resourceR4],
  [slotR1, slotR2, slotR3, slotR4]
]
const fits = [
  [genericFit1, genericFit2, genericFit3, genericFit4],
  [resourceFit1, resourceFit2, resourceFit3, resourceFit4],
  [slotFit1, slotFit2, slotFit3, slotFit4]
]

// layout
const W = 1241, H = 743
const panelW = 255, panelH = 185
const colLeft = i => 73 + 295 * i
const rowTop = j => 73 + 218 * j
const stripTopY = 43, stripRightW = 28

const x = d3.scaleLinear().domain([0.069, 1.043]).range([0, panelW])
const y = d3.scaleLinear().domain([-0.073, 0.543]).range([panelH, 0])

const svg = d3.select("#chart").append("svg")
    .attr("width", W)
    .attr("height", H)

svg.append("rect").attr("width", W).attr("height", H).attr("fill", "#fff")

const line = d3.line()
    .x(d => x(d[0]))
    .y(d => y(d[1]))
    .curve(d3.curveMonotoneX)

modelLabels.forEach((model, j) => {
  ruleLabels.forEach((rule, i) => {
    const g = svg.append("g")
        .attr("transform", "translate(" + colLeft(i) + "," + rowTop(j) + ")")

    g.append("rect")
        .attr("width", panelW).attr("height", panelH)
        .attr("fill", "#fff")

    // vertical grid only
    g.selectAll(".minor").data(xMinor).enter().append("line")
        .attr("x1", d => x(d)).attr("x2", d => x(d))
        .attr("y1", 0).attr("y2", panelH)
        .attr("stroke", "#ebebeb").attr("stroke-width", 0.6)
    g.selectAll(".major").data(xTicks).enter().append("line")
        .attr("x1", d => x(d)).attr("x2", d => x(d))
        .attr("y1", 0).attr("y2", panelH)
        .attr("stroke", "#e6e6e6").attr("stroke-width", 1.1)

    g.selectAll("circle").data(points[j][i]).enter().append("circle")
        .attr("cx", d => x(d[0]))
        .attr("cy", d => y(d[1]))
        .attr("r", 3.7)
        .attr("fill", "#000")
        .attr("fill-opacity", 0.27)

    g.append("path")
        .datum(fits[j][i])
        .attr("d", line)
        .attr("fill", "none")
        .attr("stroke", "#3366ff")
        .attr("stroke-width", 4.2)

    g.append("rect")
        .attr("width", panelW).attr("height", panelH)
        .attr("fill", "none")
        .attr("stroke", "#333").attr("stroke-width", 1)

    const ya = g.append("g")
        .call(d3.axisLeft(y).tickValues(yTicks).tickFormat(d3.format(".1f")).tickSize(5).tickPadding(4))
    const xa = g.append("g")
        .attr("transform", "translate(0," + panelH + ")")
        .call(d3.axisBottom(x).tickValues(xTicks).tickFormat(d3.format(".2f")).tickSize(5).tickPadding(5))
    ;[ya, xa].forEach(a => {
      a.select(".domain").remove()
      a.selectAll(".tick line").attr("stroke", "#333")
      a.selectAll(".tick text")
          .attr("fill", "#4d4d4d")
          .style("font-size", "14.5px")
          .style("font-family", "'Liberation Sans', Arial, sans-serif")
    })

    // top strips
    if (j === 0) {
      svg.append("rect")
          .attr("x", colLeft(i)).attr("y", stripTopY)
          .attr("width", panelW).attr("height", rowTop(0) - stripTopY)
          .attr("fill", "#d9d9d9").attr("stroke", "#333").attr("stroke-width", 1)
      svg.append("text")
          .attr("x", colLeft(i) + panelW / 2)
          .attr("y", stripTopY + (rowTop(0) - stripTopY) / 2)
          .attr("dy", "0.35em")
          .attr("text-anchor", "middle")
          .attr("fill", "#1a1a1a")
          .style("font-size", "15px")
          .text(rule)
    }
  })

  // right strips
  const sx = colLeft(3) + panelW
  svg.append("rect")
      .attr("x", sx).attr("y", rowTop(j))
      .attr("width", stripRightW).attr("height", panelH)
      .attr("fill", "#d9d9d9").attr("stroke", "#333").attr("stroke-width", 1)
  svg.append("text")
      .attr("transform", "translate(" + (sx + stripRightW / 2) + "," + (rowTop(j) + panelH / 2) + ") rotate(90)")
      .attr("dy", "0.35em")
      .attr("text-anchor", "middle")
      .attr("fill", "#1a1a1a")
      .style("font-size", "15px")
      .text(model)
})

// titles
const midX = (colLeft(0) + colLeft(3) + panelW) / 2
svg.append("text")
    .attr("x", midX).attr("y", 29)
    .attr("text-anchor", "middle")
    .style("font-size", "22.5px")
    .style("white-space", "pre")
    .attr("fill", "#000")
    .text("Simulation Results for: Sample Size =  500  -  0.4 < r(WMC,Theta) < 0.7")

svg.append("text")
    .attr("x", midX).attr("y", 734)
    .attr("text-anchor", "middle")
    .style("font-size", "19px")
    .attr("fill", "#000")
    .text("Proportion p of sample that solved an item")

const yt = svg.append("text")
    .attr("transform", "translate(31,368) rotate(-90)")
    .attr("text-anchor", "middle")
    .style("font-size", "19.5px")
    .attr("fill", "#000")
yt.append("tspan").text("Correlation (ρ")
yt.append("tspan").attr("baseline-shift", "sub").style("font-size", "14px").text("pb")
yt.append("tspan").text(") of item peromance wih WMC")

</script>
